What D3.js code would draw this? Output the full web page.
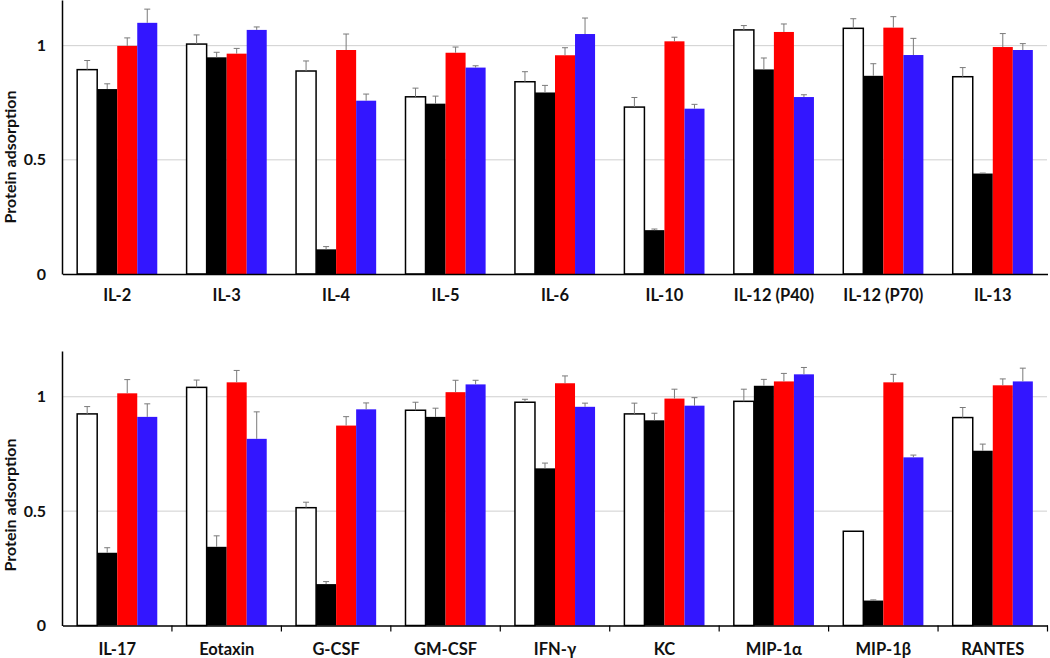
<!DOCTYPE html>
<html>
<head>
<meta charset="utf-8">
<script src="https://cdn.jsdelivr.net/npm/d3@7"></script>
<style>
  body { margin: 0; background: #fff; }
  text { font-family: Lato, "Open Sans", sans-serif; font-weight: bold; fill: #111; }
</style>
</head>
<body>
<script>
//data
var series = ["s1", "s2", "s3", "s4"];
var colors = ["#ffffff", "#000000", "#ff0000", "#3316ff"];
var yTicks = [0, 0.5, 1];

var topCats = ["IL-2", "IL-3", "IL-4", "IL-5", "IL-6", "IL-10", "IL-12 (P40)", "IL-12 (P70)", "IL-13"];
var topS1 = [0.895, 1.007, 0.889, 0.776, 0.842, 0.731, 1.069, 1.076, 0.864];
var topS2 = [0.810, 0.949, 0.108, 0.746, 0.795, 0.192, 0.896, 0.868, 0.440];
var topS3 = [0.999, 0.965, 0.981, 0.969, 0.958, 1.019, 1.060, 1.079, 0.994];
var topS4 = [1.100, 1.069, 0.759, 0.904, 1.051, 0.724, 0.775, 0.959, 0.981];
var topE1 = [0.040, 0.040, 0.044, 0.038, 0.044, 0.042, 0.019, 0.042, 0.040];
var topE2 = [0.023, 0.022, 0.012, 0.033, 0.031, 0.005, 0.050, 0.053, 0.002];
var topE3 = [0.035, 0.023, 0.070, 0.025, 0.033, 0.018, 0.035, 0.048, 0.059];
var topE4 = [0.060, 0.013, 0.029, 0.008, 0.070, 0.019, 0.010, 0.073, 0.028];

var botCats = ["IL-17", "Eotaxin", "G-CSF", "GM-CSF", "IFN-γ", "KC", "MIP-1α", "MIP-1β", "RANTES"];
var botS1 = [0.925, 1.041, 0.515, 0.941, 0.976, 0.925, 0.980, 0.412, 0.909];
var botS2 = [0.318, 0.344, 0.181, 0.912, 0.687, 0.897, 1.048, 0.109, 0.764];
var botS3 = [1.015, 1.063, 0.874, 1.020, 1.059, 0.992, 1.067, 1.063, 1.050];
var botS4 = [0.912, 0.816, 0.945, 1.054, 0.956, 0.961, 1.098, 0.735, 1.067];
var botE1 = [0.032, 0.032, 0.024, 0.035, 0.013, 0.047, 0.053, 0.000, 0.044];
var botE2 = [0.022, 0.048, 0.011, 0.038, 0.023, 0.031, 0.028, 0.003, 0.029];
var botE3 = [0.060, 0.052, 0.039, 0.052, 0.032, 0.041, 0.035, 0.035, 0.028];
var botE4 = [0.057, 0.118, 0.028, 0.018, 0.016, 0.035, 0.030, 0.010, 0.058];

var width = 1050, height = 658;

var svg = d3.select("body").append("svg")
  .attr("width", width)
  .attr("height", height);

//build rows for one panel
function makeRows(cats, vals, errs){
  return cats.map(function(c, i){
    return {
      cat: c,
      bars: series.map(function(s, j){
        return { key: s, value: vals[j][i], err: errs[j][i], color: colors[j] };
      })
    };
  });
}

function drawPanel(rows, top, bottom, catTicks, labelY, titleY){
  var x = d3.scaleBand()
    .domain(rows.map(function(d){ return d.cat; }))
    .range([62.5, 1047.5])
    .padding(0);

  var groupW = x.bandwidth() * 0.732;
  var x1 = d3.scaleBand()
    .domain(series)
    .range([(x.bandwidth() - groupW) / 2, (x.bandwidth() + groupW) / 2])
    .padding(0);

  var y = d3.scaleLinear().domain([0, 1.2]).range([bottom, top]);

  var g = svg.append("g");

  //gridlines
  g.selectAll(".grid")
    .data(yTicks.filter(function(t){ return t > 0; }))
    .enter().append("line")
    .attr("x1", 62).attr("x2", 1047)
    .attr("y1", function(d){ return y(d); })
    .attr("y2", function(d){ return y(d); })
    .attr("stroke", "#cfcfcf")
    .attr("stroke-width", 1);

  var grp = g.selectAll(".grp")
    .data(rows)
    .enter().append("g")
    .attr("transform", function(d){ return "translate(" + x(d.cat) + ",0)"; });

  grp.selectAll("rect")
    .data(function(d){ return d.bars; })
    .enter().append("rect")
    .attr("x", function(d){ return x1(d.key); })
    .attr("y", function(d){ return y(d.value); })
    .attr("width", x1.bandwidth())
    .attr("height", function(d){ return y(0) - y(d.value); })
    .attr("fill", function(d){ return d.color; })
    .attr("stroke", function(d){ return d.key === "s1" ? "#000" : "none"; })
    .attr("stroke-width", 1.5);

  //error bars (upper only)
  var eb = grp.selectAll(".err")
    .data(function(d){ return d.bars.filter(function(b){ return b.err > 0.001; }); })
    .enter().append("g")
    .attr("stroke", "#7a7a7a")
    .attr("stroke-width", 1);
  eb.append("line")
    .attr("x1", function(d){ return x1(d.key) + x1.bandwidth() / 2; })
    .attr("x2", function(d){ return x1(d.key) + x1.bandwidth() / 2; })
    .attr("y1", function(d){ return y(d.value); })
    .attr("y2", function(d){ return y(d.value + d.err); });
  eb.append("line")
    .attr("x1", function(d){ return x1(d.key) + x1.bandwidth() / 2 - 3; })
    .attr("x2", function(d){ return x1(d.key) + x1.bandwidth() / 2 + 3; })
    .attr("y1", function(d){ return y(d.value + d.err); })
    .attr("y2", function(d){ return y(d.value + d.err); });

  //y axis
  var yAxis = g.append("g")
    .attr("transform", "translate(62,0)")
    .call(d3.axisLeft(y).tickValues(yTicks).tickSize(0).tickPadding(16).tickFormat(d3.format("")));
  yAxis.select(".domain").attr("stroke", "#000").attr("stroke-width", 1.5);
  yAxis.selectAll("text").style("font-size", "16px").attr("fill", "#111");

  //x axis
  var xAxis = g.append("g")
    .attr("transform", "translate(0," + bottom + ")")
    .call(d3.axisBottom(x).tickSize(0).tickSizeOuter(0).tickPadding(0));
  xAxis.select(".domain").attr("stroke", "#000").attr("stroke-width", 1.5);
  xAxis.selectAll("text")
    .attr("dy", null)
    .attr("y", labelY - bottom)
    .style("font-size", "16.5px")
    .attr("fill", "#111");

  if(catTicks){
    g.selectAll(".ctick")
      .data(rows)
      .enter().append("line")
      .attr("x1", function(d){ return x(d.cat) + x.bandwidth(); })
      .attr("x2", function(d){ return x(d.cat) + x.bandwidth(); })
      .attr("y1", bottom)
      .attr("y2", bottom + 6)
      .attr("stroke", "#000")
      .attr("stroke-width", 1.2);
  }

  //y title
  g.append("text")
    .attr("transform", "translate(15.5," + titleY + ") rotate(-90)")
    .attr("text-anchor", "middle")
    .style("font-size", "16px")
    .text("Protein adsorption");
}

var topRows = makeRows(topCats, [topS1, topS2, topS3, topS4], [topE1, topE2, topE3, topE4]);
var botRows = makeRows(botCats, [botS1, botS2, botS3, botS4], [botE1, botE2, botE3, botE4]);

drawPanel(topRows, 0, 274, false, 301, 157);
drawPanel(botRows, 351, 625.5, true, 655, 505);
</script>
</body>
</html>
